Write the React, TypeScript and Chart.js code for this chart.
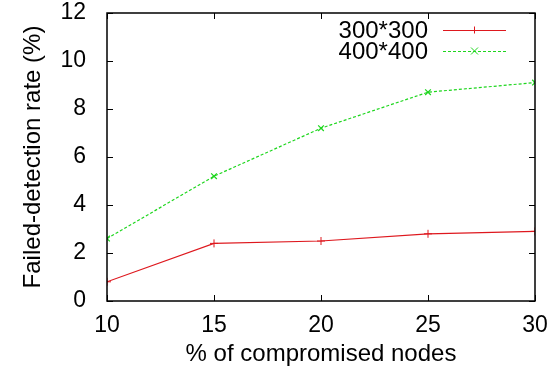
import React, { useEffect, useRef } from "react";
import { Chart, registerables } from "chart.js";

Chart.register(...registerables);

const xValues = [10, 15, 20, 25, 30];
const series300 = [0.8, 2.4, 2.5, 2.8, 2.9];
const series400 = [2.6, 5.2, 7.2, 8.7, 9.1];
const seriesLabels = ["300*300", "400*400"];
const xTitle = "% of compromised nodes";
const yTitle = "Failed-detection rate (%)";

const FONT = "'Liberation Sans', Arial, Helvetica, sans-serif";
const RED = "rgb(222,24,30)";
const GREEN = "rgb(30,214,30)";

const framePlugin = {
  id: "gnuFrame",
  afterDatasetsDraw(chart: any) {
    const { ctx, chartArea: a, scales } = chart;
    const xs = scales.x;
    const ys = scales.y;
    const tl = 6;
    ctx.save();
    ctx.strokeStyle = "#000";
    ctx.lineWidth = 1;
    ctx.beginPath();
    ys.ticks.forEach((t: any) => {
      const y = Math.round(ys.getPixelForValue(t.value)) + 0.5;
      ctx.moveTo(a.left, y);
      ctx.lineTo(a.left + tl, y);
      ctx.moveTo(a.right, y);
      ctx.lineTo(a.right - tl, y);
    });
    xs.ticks.forEach((t: any) => {
      const x = Math.round(xs.getPixelForValue(t.value)) + 0.5;
      ctx.moveTo(x, a.bottom);
      ctx.lineTo(x, a.bottom - tl);
      ctx.moveTo(x, a.top);
      ctx.lineTo(x, a.top + tl);
    });
    ctx.stroke();
    ctx.lineWidth = 1.5;
    ctx.strokeRect(a.left, a.top, a.right - a.left, a.bottom - a.top);
    ctx.restore();
  },
  afterDraw(chart: any) {
    const { ctx, chartArea: a } = chart;
    ctx.save();
    ctx.font = `24px ${FONT}`;
    ctx.fillStyle = "#000";
    ctx.textAlign = "right";
    ctx.textBaseline = "middle";
    chart.data.datasets.forEach((ds: any, i: number) => {
      const y = a.top + 17 + i * 21;
      ctx.fillText(ds.label, a.right - 107, y + 1);
      const x0 = a.right - 92;
      const x1 = a.right - 29;
      ctx.strokeStyle = ds.borderColor;
      ctx.lineWidth = 1;
      ctx.setLineDash(ds.borderDash || []);
      ctx.beginPath();
      ctx.moveTo(x0, y + 0.5);
      ctx.lineTo(x1, y + 0.5);
      ctx.stroke();
      ctx.setLineDash([]);
      const cx = (x0 + x1) / 2;
      const r = 3.5;
      ctx.beginPath();
      if (ds.pointStyle === "cross") {
        ctx.moveTo(cx - r, y + 0.5);
        ctx.lineTo(cx + r, y + 0.5);
        ctx.moveTo(cx, y - r);
        ctx.lineTo(cx, y + r);
      } else {
        ctx.moveTo(cx - r, y - r);
        ctx.lineTo(cx + r, y + r);
        ctx.moveTo(cx - r, y + r);
        ctx.lineTo(cx + r, y - r);
      }
      ctx.stroke();
    });
    ctx.restore();
  },
};

export default function App() {
  const ref = useRef<HTMLCanvasElement>(null);

  useEffect(() => {
    document.body.style.margin = "0";
    const canvas = ref.current;
    if (!canvas) return;
    const chart = new Chart(canvas, {
      type: "line",
      data: {
        datasets: [
          {
            label: seriesLabels[0],
            data: xValues.map((x, i) => ({ x, y: series300[i] })),
            borderColor: RED,
            backgroundColor: RED,
            borderWidth: 1.2,
            pointStyle: "cross",
            pointRadius: 4,
            pointBorderWidth: 1,
            fill: false,
            tension: 0,
          },
          {
            label: seriesLabels[1],
            data: xValues.map((x, i) => ({ x, y: series400[i] })),
            borderColor: GREEN,
            backgroundColor: GREEN,
            borderWidth: 1.2,
            borderDash: [3, 2],
            pointStyle: "crossRot",
            pointRadius: 4,
            pointBorderWidth: 1.2,
            fill: false,
            tension: 0,
          },
        ],
      },
      options: {
        animation: false,
        responsive: false,
        maintainAspectRatio: false,
        layout: { padding: { top: 13, right: 13, left: 0, bottom: 0 } },
        plugins: {
          legend: { display: false },
          tooltip: { enabled: false },
        },
        scales: {
          x: {
            type: "linear",
            min: 10,
            max: 30,
            ticks: {
              stepSize: 5,
              color: "#000",
              font: { family: FONT, size: 23 },
              padding: 3,
              maxRotation: 0,
            },
            grid: { display: false },
            border: { display: false },
            title: {
              display: true,
              text: xTitle,
              color: "#000",
              font: { family: FONT, size: 24 },
              padding: { top: 0, bottom: 5 },
            },
            afterFit(scale: any) {
              scale.height = 73;
              scale.paddingLeft = 0;
              scale.paddingRight = 0;
            },
          },
          y: {
            type: "linear",
            min: 0,
            max: 12,
            ticks: {
              stepSize: 2,
              color: "#000",
              font: { family: FONT, size: 23 },
              padding: 13,
            },
            grid: { display: false },
            border: { display: false },
            title: {
              display: true,
              text: yTitle,
              color: "#000",
              font: { family: FONT, size: 24 },
              padding: { top: 19, bottom: 0 },
            },
            afterFit(scale: any) {
              scale.width = 107;
              scale.paddingTop = 0;
              scale.paddingBottom = 0;
            },
          },
        },
      },
      plugins: [framePlugin],
    });
    return () => chart.destroy();
  }, []);

  return (
    <div style={{ width: 548, height: 374, background: "#fff" }}>
      <canvas ref={ref} width={548} height={374} style={{ display: "block" }} />
    </div>
  );
}
